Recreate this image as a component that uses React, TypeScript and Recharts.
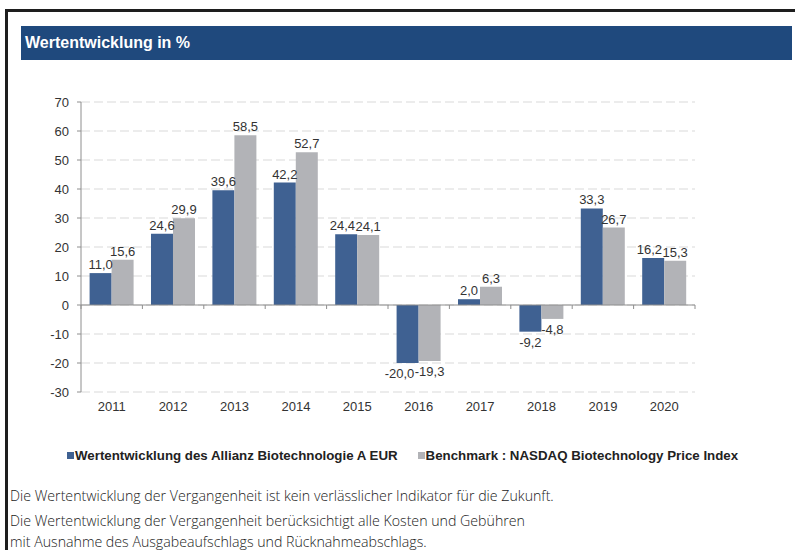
import React from 'react'
import { BarChart, Bar, XAxis, YAxis, CartesianGrid, ReferenceLine, LabelList } from 'recharts'

const years = ['2011', '2012', '2013', '2014', '2015', '2016', '2017', '2018', '2019', '2020']
const fundValues = [11.0, 24.6, 39.6, 42.2, 24.4, -20.0, 2.0, -9.2, 33.3, 16.2]
const benchmarkValues = [15.6, 29.9, 58.5, 52.7, 24.1, -19.3, 6.3, -4.8, 26.7, 15.3]
const yTicks = [-30, -20, -10, 0, 10, 20, 30, 40, 50, 60, 70]

const fundName = 'Wertentwicklung des Allianz Biotechnologie A EUR'
const benchmarkName = 'Benchmark : NASDAQ Biotechnology Price Index'

const BLUE = '#3F6192'
const GREY = '#B2B3B7'
const AXIS = '#8E8E8E'
const FONT = '"Liberation Sans", Arial, sans-serif'
const LABEL_SIZE = 13

const data = years.map((year, i) => ({
  year,
  fund: fundValues[i],
  benchmark: benchmarkValues[i],
}))

const fmt = (v: number) => v.toFixed(1).replace('.', ',')

// rough width of a number label in px (Arial digit metrics)
const labelWidth = (v: number) => {
  const s = fmt(v)
  let w = 0
  for (const ch of s) w += ch === ',' ? 0.278 : ch === '-' ? 0.333 : 0.556
  return w * LABEL_SIZE
}

// value label above positive bars, below negative ones; the fund label
// moves left when it would run into the benchmark label next to it
const makeLabel = (series: 'fund' | 'benchmark') => (props: any) => {
  const { x, y, width, height, value, index } = props
  const v = Number(value)
  let cx = Number(x) + Number(width) / 2
  if (series === 'fund') {
    const other = benchmarkValues[index]
    const sameSide = Math.sign(other) === Math.sign(v)
    if (sameSide && Math.abs(other - v) < 4) {
      const overlap = (labelWidth(v) + labelWidth(other)) / 2 - Number(width)
      if (overlap > 0) cx -= overlap + 0.5
    }
  }
  const top = Math.min(Number(y), Number(y) + Number(height))
  const bottom = Math.max(Number(y), Number(y) + Number(height))
  const neg = v < 0
  return (
    <text
      x={cx}
      y={neg ? bottom + 15 : top - 4}
      textAnchor="middle"
      fontSize={LABEL_SIZE}
      fontFamily={FONT}
      fill="#333"
    >
      {fmt(v)}
    </text>
  )
}

const FundLabel = makeLabel('fund')
const BenchmarkLabel = makeLabel('benchmark')

// zero line acting as the category axis, with ticks between categories
const ZeroAxis = (props: any) => {
  const { x1, y1, x2 } = props
  const step = (x2 - x1) / years.length
  const ticks = []
  for (let i = 0; i <= years.length; i++) {
    const tx = x1 + step * i
    ticks.push(<line key={i} x1={tx} x2={tx} y1={y1} y2={y1 + 4} stroke={AXIS} strokeWidth={1} />)
  }
  return (
    <g>
      <line x1={x1} x2={x2} y1={y1} y2={y1} stroke={AXIS} strokeWidth={1} />
      {ticks}
    </g>
  )
}

const LegendItem = ({ color, label }: { color: string; label: string }) => (
  <div style={{ display: 'flex', alignItems: 'center' }}>
    <span style={{ width: 7, height: 7, background: color, marginRight: 1 }} />
    <span style={{ fontFamily: FONT, fontWeight: 'bold', fontSize: 13.3, color: '#222' }}>{label}</span>
  </div>
)

export default function App() {
  return (
    <div
      style={{
        position: 'absolute',
        left: 0,
        top: 0,
        width: 795,
        height: 550,
        overflow: 'hidden',
        background: '#fff',
      }}
    >
      {/* frame */}
      <div style={{ position: 'absolute', left: 6, top: 9, width: 789, height: 3, background: '#1E1E1E' }} />
      <div style={{ position: 'absolute', left: 5, top: 9, width: 3, height: 541, background: '#1E1E1E' }} />

      {/* header */}
      <div
        style={{
          position: 'absolute',
          left: 21,
          top: 26,
          width: 771,
          height: 34,
          background: '#1F497D',
          color: '#fff',
          fontFamily: FONT,
          fontWeight: 'bold',
          fontSize: 16,
          lineHeight: '34px',
          paddingLeft: 4,
          boxSizing: 'border-box',
        }}
      >
        Wertentwicklung in %
      </div>

      <div style={{ position: 'absolute', left: 0, top: 80 }}>
        <BarChart
          width={720}
          height={342}
          data={data}
          margin={{ top: 22, right: 25, left: 0, bottom: 0 }}
          barCategoryGap="14%"
          barGap={0}
        >
          <CartesianGrid vertical={false} stroke="#D9D9D9" strokeDasharray="9 4" />
          <XAxis
            dataKey="year"
            axisLine={false}
            tickLine={false}
            tickSize={0}
            tickMargin={10}
            height={30}
            interval={0}
            tick={{ fontSize: 13, fill: '#333', fontFamily: FONT }}
          />
          <YAxis
            width={81}
            domain={[-30, 70]}
            ticks={yTicks}
            interval={0}
            allowDataOverflow
            axisLine={{ stroke: AXIS }}
            tickLine={{ stroke: AXIS }}
            tickSize={4}
            tickMargin={8}
            tick={{ fontSize: 13, fill: '#333', fontFamily: FONT }}
          />
          <Bar dataKey="fund" name={fundName} fill={BLUE} isAnimationActive={false}>
            <LabelList dataKey="fund" content={FundLabel} />
          </Bar>
          <Bar dataKey="benchmark" name={benchmarkName} fill={GREY} isAnimationActive={false}>
            <LabelList dataKey="benchmark" content={BenchmarkLabel} />
          </Bar>
          <ReferenceLine y={0} shape={ZeroAxis} />
        </BarChart>
      </div>

      {/* legend */}
      <div style={{ position: 'absolute', left: 67, top: 448, display: 'flex', gap: 20 }}>
        <LegendItem color={BLUE} label={fundName} />
        <LegendItem color={GREY} label={benchmarkName} />
      </div>

      {/* footer notes */}
      <div
        style={{
          position: 'absolute',
          left: 10,
          top: 485,
          fontFamily: '"Open Sans", sans-serif',
          fontWeight: 300,
          fontSize: 15,
          color: '#1a1a1a',
          lineHeight: '21px',
          transform: 'scaleX(0.945)',
          transformOrigin: 'left top',
          whiteSpace: 'nowrap',
        }}
      >
        <div style={{ marginBottom: 4 }}>
          Die Wertentwicklung der Vergangenheit ist kein verlässlicher Indikator für die Zukunft.
        </div>
        <div>Die Wertentwicklung der Vergangenheit berücksichtigt alle Kosten und Gebühren</div>
        <div>mit Ausnahme des Ausgabeaufschlags und Rücknahmeabschlags.</div>
      </div>
    </div>
  )
}
